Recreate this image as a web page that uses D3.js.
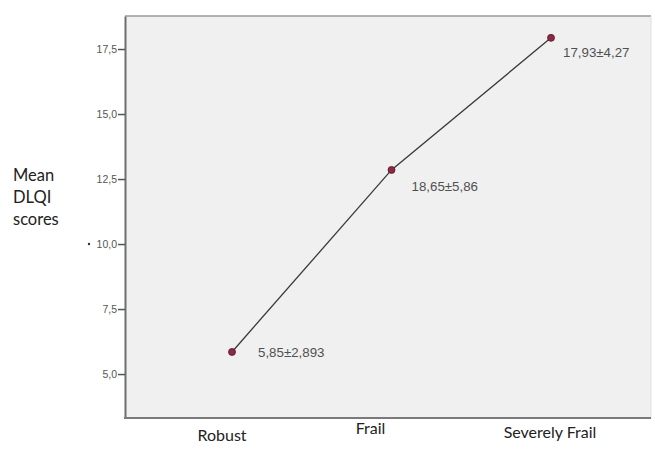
<!DOCTYPE html>
<html><head><meta charset="utf-8">
<script src="https://cdn.jsdelivr.net/npm/d3@7"></script>
<style>body{margin:0;background:#fff}svg{display:block}</style>
</head><body>
<script>
const categories = ["Robust", "Frail", "Severely Frail"];
const meanValues = [5.85, 12.85, 17.93];
const pointLabels = ["5,85±2,893", "18,65±5,86", "17,93±4,27"];
const yTicks = [5.0, 7.5, 10.0, 12.5, 15.0, 17.5];
const yTitle = ["Mean", "DLQI", "scores"];

const W = 655, H = 449;
const L = 125, T = 16, R = 651, B = 418;
const svg = d3.select("body").append("svg").attr("width", W).attr("height", H);

const x = d3.scalePoint().domain(categories).range([L + 107, R - 100]).padding(0);
const y = d3.scaleLinear().domain([3.31, 18.77]).range([B, T]);

// plot area
svg.append("rect").attr("x", L).attr("y", T).attr("width", R - L).attr("height", B - T)
  .attr("fill", "#f0f0f0");
svg.append("line").attr("x1", L).attr("x2", R).attr("y1", T).attr("y2", T).attr("stroke", "#9a9a9a").attr("stroke-width", 1.5);
svg.append("line").attr("x1", R).attr("x2", R).attr("y1", T).attr("y2", B).attr("stroke", "#e0e0e0").attr("stroke-width", 1);

// y axis
const fmt = d => d3.format(".1f")(d).replace(".", ",");
const yAxis = svg.append("g").attr("transform", `translate(${L},0)`)
  .call(d3.axisLeft(y).tickValues(yTicks).tickFormat(fmt).tickSize(7).tickSizeOuter(0).tickPadding(1));
yAxis.select(".domain").attr("stroke", "#6e6e6e").attr("stroke-width", 2);
yAxis.selectAll(".tick line").attr("stroke", "#555").attr("stroke-width", 1.5);
yAxis.selectAll(".tick text").attr("fill", "#555").attr("font-family", "Arial, 'Liberation Sans', sans-serif").attr("font-size", 10.5);

// bottom axis line
svg.append("line").attr("x1", L - 1).attr("x2", R).attr("y1", B).attr("y2", B).attr("stroke", "#7a7a7a").attr("stroke-width", 2);

// stray dot
svg.append("circle").attr("cx", 89).attr("cy", y(10)).attr("r", 1.2).attr("fill", "#333");

// line and points
const pts = categories.map((c, i) => [x(c), y(meanValues[i])]);
svg.append("path").attr("d", d3.line()(pts)).attr("fill", "none").attr("stroke", "#3a3a3a").attr("stroke-width", 1.3);
svg.selectAll("circle.pt").data(pts).enter().append("circle").attr("class", "pt")
  .attr("cx", d => d[0]).attr("cy", d => d[1]).attr("r", 3.5)
  .attr("fill", "#8c2a45").attr("stroke", "#5a1428").attr("stroke-width", 0.8);

// point labels
const lblDx = [26, 20, 12], lblDy = [5, 21, 19];
svg.selectAll("text.pl").data(pointLabels).enter().append("text").attr("class", "pl")
  .attr("x", (d, i) => pts[i][0] + lblDx[i]).attr("y", (d, i) => pts[i][1] + lblDy[i])
  .attr("font-family", "Arial, 'Liberation Sans', sans-serif").attr("font-size", 13.3)
  .attr("fill", "#505050").text(d => d);

// category labels
const catDx = [-10, -21, -1], catY = [441, 434, 438];
svg.selectAll("text.cat").data(categories).enter().append("text").attr("class", "cat")
  .attr("x", (d, i) => x(d) + catDx[i]).attr("y", (d, i) => catY[i])
  .attr("text-anchor", "middle").attr("font-family", "Lato, 'Open Sans', sans-serif").attr("font-size", 16)
  .attr("fill", "#222").text(d => d);

// y title
svg.selectAll("text.yt").data(yTitle).enter().append("text").attr("class", "yt")
  .attr("x", 13).attr("y", (d, i) => 181 + i * 22)
  .attr("font-family", "Lato, 'Open Sans', sans-serif").attr("font-size", 16.5)
  .attr("fill", "#222").text(d => d);
</script>
</body></html>
